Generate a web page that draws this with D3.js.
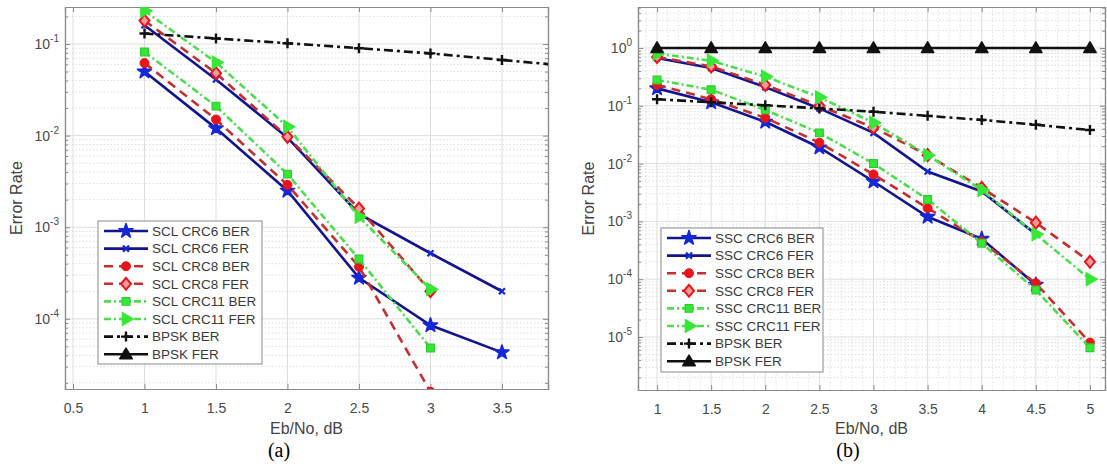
<!DOCTYPE html>
<html><head><meta charset="utf-8">
<script src="https://cdn.jsdelivr.net/npm/d3@7"></script>
<style>body{margin:0;background:#fff;} svg{display:block;}</style>
</head><body>
<svg id="chart" width="1107" height="470"></svg>
<script>
// ---------- DATA ----------
const ebnoA = [1, 1.5, 2, 2.5, 3, 3.5];
const ebnoB = [1, 1.5, 2, 2.5, 3, 3.5, 4, 4.5, 5];
const xTicksA = [0.5, 1, 1.5, 2, 2.5, 3, 3.5];
const xTicksB = [1, 1.5, 2, 2.5, 3, 3.5, 4, 4.5, 5];
const yTicksA = [-4, -3, -2, -1];
const yTicksB = [-5, -4, -3, -2, -1, 0];

const sclCrc6Ber  = [0.050, 0.012, 0.0025, 2.8e-4, 8.5e-5, 4.3e-5];
const sclCrc6Fer  = [0.16, 0.041, 0.0095, 0.0014, 5.2e-4, 2.0e-4];
const sclCrc8Ber  = [0.062, 0.015, 0.0029, 3.7e-4, 1.6e-5];
const sclCrc8Fer  = [0.18, 0.048, 0.0097, 0.0016, 2.0e-4];
const sclCrc11Ber = [0.082, 0.021, 0.0038, 4.5e-4, 4.8e-5];
const sclCrc11Fer = [0.23, 0.063, 0.0125, 0.0013, 2.1e-4];

const sscCrc6Ber  = [0.20, 0.115, 0.053, 0.019, 0.0049, 0.0012, 5.0e-4, 8.0e-5];
const sscCrc6Fer  = [0.67, 0.45, 0.21, 0.09, 0.034, 0.0073, 0.0033, 6.0e-4];
const sscCrc8Ber  = [0.23, 0.13, 0.062, 0.023, 0.0065, 0.0017, 4.5e-4, 8.5e-5, 8.0e-6];
const sscCrc8Fer  = [0.70, 0.48, 0.23, 0.10, 0.042, 0.014, 0.0038, 9.5e-4, 2.0e-4];
const sscCrc11Ber = [0.28, 0.19, 0.085, 0.034, 0.010, 0.0024, 4.2e-4, 6.5e-5, 6.5e-6];
const sscCrc11Fer = [0.80, 0.60, 0.32, 0.14, 0.051, 0.014, 0.0035, 6.0e-4, 1.0e-4];

const bpskBer = [0.13, 0.115, 0.102, 0.09, 0.079, 0.067, 0.057, 0.047, 0.038];
const bpskFer = [1, 1, 1, 1, 1, 1, 1, 1, 1];

const namesA = ["SCL CRC6 BER","SCL CRC6 FER","SCL CRC8 BER","SCL CRC8 FER","SCL CRC11 BER","SCL CRC11 FER","BPSK BER","BPSK FER"];
const namesB = ["SSC CRC6 BER","SSC CRC6 FER","SSC CRC8 BER","SSC CRC8 FER","SSC CRC11 BER","SSC CRC11 FER","BPSK BER","BPSK FER"];

// ---------- STYLES ----------
const styles = [
  {line:"#14148f", dash:null, marker:"star", mc:"#1428d8"},
  {line:"#14148f", dash:null, marker:"x", mc:"#1428d8"},
  {line:"#c43030", dash:"9,6", marker:"circle", mc:"#e8141a"},
  {line:"#c43030", dash:"9,6", marker:"diamond", mc:"#e8141a"},
  {line:"#4fdc4f", dash:"7,3,2,3", marker:"square", mc:"#36e836"},
  {line:"#4fdc4f", dash:"7,3,2,3", marker:"tri", mc:"#36e836"},
  {line:"#111", dash:"9,4,3,4", marker:"plus", mc:"#111"},
  {line:"#111", dash:null, marker:"triup", mc:"#111"}
];

const svg = d3.select("#chart");
const FONT = "'Liberation Sans', Arial, Helvetica, sans-serif";

function drawMarker(g, type, color, x, y) {
  const t = `translate(${x},${y})`;
  if (type === "star") g.append("path").attr("d", d3.symbol(d3.symbolStar, 62)()).attr("transform", t).attr("fill", color).attr("stroke", color).attr("stroke-width", 1.6).attr("stroke-linejoin", "round");
  else if (type === "x") g.append("path").attr("d", "M-3,-3L3,3M-3,3L3,-3").attr("transform", t).attr("stroke", color).attr("stroke-width", 2.2).attr("fill", "none");
  else if (type === "circle") g.append("circle").attr("cx", x).attr("cy", y).attr("r", 4.5).attr("fill", color).attr("stroke", color);
  else if (type === "diamond") g.append("path").attr("d", "M0,-6L5,0L0,6L-5,0Z").attr("transform", t).attr("fill", "#f49a9a").attr("stroke", color).attr("stroke-width", 2);
  else if (type === "square") g.append("path").attr("d", d3.symbol(d3.symbolSquare, 60)()).attr("transform", t).attr("fill", color).attr("stroke", "#2ccc2c").attr("stroke-width", 1.2);
  else if (type === "tri") g.append("path").attr("d", d3.symbol(d3.symbolTriangle, 72)()).attr("transform", t + " rotate(90)").attr("fill", color).attr("stroke", color).attr("stroke-width", 1.2);
  else if (type === "plus") g.append("path").attr("d", "M-5,0H5M0,-5V5").attr("transform", t).attr("stroke", color).attr("stroke-width", 2.4).attr("fill", "none");
  else if (type === "triup") g.append("path").attr("d", d3.symbol(d3.symbolTriangle, 66)()).attr("transform", t + " translate(0,1)").attr("fill", color).attr("stroke", color).attr("stroke-width", 1.6).attr("stroke-linejoin", "round");
}

function panel(cfg) {
  const {x0, x1, y0, y1, xdom, ydomLog, xTicks, yTicks, series, names, legend, id, minorX, label, labelX} = cfg;
  const x = d3.scaleLinear().domain(xdom).range([x0, x1]);
  const y = d3.scaleLog().domain([Math.pow(10, ydomLog[0]), Math.pow(10, ydomLog[1])]).range([y1, y0]);
  const g = svg.append("g");
  g.append("rect").attr("x", x0).attr("y", y0).attr("width", x1 - x0).attr("height", y1 - y0).attr("fill", "#fff");

  // minor horizontal grid
  const minorY = [];
  for (let e = Math.floor(ydomLog[0]); e <= Math.ceil(ydomLog[1]); e++)
    for (let m = 2; m <= 9; m++) { const v = m * Math.pow(10, e); if (v > y.domain()[0] && v < y.domain()[1]) minorY.push(v); }
  g.selectAll(null).data(minorY).enter().append("line")
    .attr("x1", x0).attr("x2", x1).attr("y1", d => y(d)).attr("y2", d => y(d))
    .attr("stroke", "#d6d6d6").attr("stroke-width", 0.8).attr("stroke-dasharray", "1.5,2");
  if (minorX) {
    const mx = d3.range(Math.ceil(xdom[0] * 10), Math.floor(xdom[1] * 10) + 1).map(d => d / 10).filter(d => Math.abs(d * 2 - Math.round(d * 2)) > 1e-6);
    g.selectAll(null).data(mx).enter().append("line")
      .attr("y1", y0).attr("y2", y1).attr("x1", d => x(d)).attr("x2", d => x(d))
      .attr("stroke", "#dcdcdc").attr("stroke-width", 0.8).attr("stroke-dasharray", "1.5,2");
  }
  // major grid
  g.selectAll(null).data(yTicks).enter().append("line")
    .attr("x1", x0).attr("x2", x1).attr("y1", d => y(Math.pow(10, d))).attr("y2", d => y(Math.pow(10, d)))
    .attr("stroke", "#dedede").attr("stroke-width", 1);
  g.selectAll(null).data(xTicks).enter().append("line")
    .attr("y1", y0).attr("y2", y1).attr("x1", d => x(d)).attr("x2", d => x(d))
    .attr("stroke", "#dedede").attr("stroke-width", 1);

  // axes via d3 axis (ticks inside)
  const axB = d3.axisBottom(x).tickValues(xTicks).tickSize(-5).tickPadding(14).tickFormat(d3.format(""));
  const gB = g.append("g").attr("transform", `translate(0,${y1})`).call(axB);
  const axT = d3.axisTop(x).tickValues(xTicks).tickSize(-5).tickFormat("");
  const gT = g.append("g").attr("transform", `translate(0,${y0})`).call(axT);
  const axL = d3.axisLeft(y).tickValues(yTicks.map(e => Math.pow(10, e))).tickSize(-5).tickFormat("");
  const gL = g.append("g").attr("transform", `translate(${x0},0)`).call(axL);
  const axL2 = d3.axisLeft(y).tickValues(minorY).tickSize(-3).tickFormat("");
  const gL2 = g.append("g").attr("transform", `translate(${x0},0)`).call(axL2);
  const axR = d3.axisRight(y).tickValues(yTicks.map(e => Math.pow(10, e))).tickSize(-5).tickFormat("");
  const gR = g.append("g").attr("transform", `translate(${x1},0)`).call(axR);
  const axR2 = d3.axisRight(y).tickValues(minorY).tickSize(-3).tickFormat("");
  const gR2 = g.append("g").attr("transform", `translate(${x1},0)`).call(axR2);
  [gB, gT, gL, gL2, gR, gR2].forEach(a => {
    a.selectAll(".domain").attr("stroke", "#8a8a8a").attr("stroke-width", 1.2);
    a.selectAll(".tick line").attr("stroke", "#8a8a8a");
  });
  gB.selectAll(".tick text").attr("font-family", FONT).attr("font-size", 14).attr("fill", "#4a4a4a");
  // y tick labels with superscript exponent
  yTicks.forEach(e => {
    const t = g.append("text").attr("x", x0 - 6).attr("y", y(Math.pow(10, e)) + 5)
      .attr("text-anchor", "end").attr("font-family", FONT).attr("font-size", 14).attr("fill", "#4a4a4a");
    t.append("tspan").text("10");
    t.append("tspan").attr("dy", -7).attr("font-size", 10).text(String(e));
  });
  // axis labels
  g.append("text").attr("transform", `translate(${labelX},${(y0 + y1) / 2}) rotate(-90)`)
    .attr("text-anchor", "middle").attr("font-family", FONT).attr("font-size", 16).attr("fill", "#444").text("Error Rate");
  g.append("text").attr("x", (x0 + x1) / 2).attr("y", 434).attr("text-anchor", "middle")
    .attr("font-family", FONT).attr("font-size", 16).attr("fill", "#444").text("Eb/No, dB");
  g.append("text").attr("x", label[1]).attr("y", 457).attr("text-anchor", "middle")
    .attr("font-family", "'Liberation Serif', 'Times New Roman', serif").attr("font-size", 20).attr("fill", "#000").text(label[0]);

  // clip
  svg.append("clipPath").attr("id", "clip" + id).append("rect").attr("x", x0).attr("y", y0).attr("width", x1 - x0).attr("height", y1 - y0);
  const plot = g.append("g").attr("clip-path", `url(#clip${id})`);
  const line = d3.line().x(d => x(d[0])).y(d => y(d[1]));
  series.forEach((s, i) => {
    const st = styles[i];
    const pts = s.vals.map((v, j) => [s.xs[j], v]);
    plot.append("path").datum(pts).attr("d", line).attr("fill", "none")
      .attr("stroke", st.line).attr("stroke-width", 2.6).attr("stroke-dasharray", st.dash);
    pts.forEach(p => drawMarker(plot, st.marker, st.mc, x(p[0]), y(p[1])));
  });

  // legend
  const L = legend;
  g.append("rect").attr("x", L.x).attr("y", L.y).attr("width", L.w).attr("height", L.h)
    .attr("fill", "#fff").attr("stroke", "#8a8a8a").attr("stroke-width", 1);
  names.forEach((n, i) => {
    const st = styles[i];
    const cy = L.y + 10 + i * 17.6;
    g.append("line").attr("x1", L.x + 6).attr("x2", L.x + 50).attr("y1", cy).attr("y2", cy)
      .attr("stroke", st.line).attr("stroke-width", 2.6).attr("stroke-dasharray", st.dash);
    drawMarker(g, st.marker, st.mc, L.x + 28, cy);
    g.append("text").attr("x", L.x + 54).attr("y", cy + 4.8).attr("font-family", FONT).attr("font-size", 13.5)
      .attr("fill", "#3a3a3a").text(n);
  });
}

panel({
  id: "a", x0: 65, x1: 548, y0: 7, y1: 389,
  xdom: [0.444, 3.822], ydomLog: [-4.766, -0.596],
  xTicks: xTicksA, yTicks: yTicksA, names: namesA, minorX: false,
  labelX: 22, label: ["(a)", 279],
  legend: {x: 98, y: 221, w: 164, h: 143},
  series: [
    {xs: ebnoA, vals: sclCrc6Ber}, {xs: ebnoA, vals: sclCrc6Fer},
    {xs: ebnoA, vals: sclCrc8Ber}, {xs: ebnoA, vals: sclCrc8Fer},
    {xs: ebnoA, vals: sclCrc11Ber}, {xs: ebnoA, vals: sclCrc11Fer},
    {xs: ebnoB, vals: bpskBer}, {xs: ebnoB, vals: bpskFer}
  ]
});
panel({
  id: "b", x0: 638, x1: 1105, y0: 7, y1: 390,
  xdom: [0.824, 5.139], ydomLog: [-5.917, 0.709],
  xTicks: xTicksB, yTicks: yTicksB, names: namesB, minorX: true,
  labelX: 594, label: ["(b)", 848],
  legend: {x: 661, y: 228, w: 162, h: 144},
  series: [
    {xs: ebnoB, vals: sscCrc6Ber}, {xs: ebnoB, vals: sscCrc6Fer},
    {xs: ebnoB, vals: sscCrc8Ber}, {xs: ebnoB, vals: sscCrc8Fer},
    {xs: ebnoB, vals: sscCrc11Ber}, {xs: ebnoB, vals: sscCrc11Fer},
    {xs: ebnoB, vals: bpskBer}, {xs: ebnoB, vals: bpskFer}
  ]
});
</script>
</body></html>
